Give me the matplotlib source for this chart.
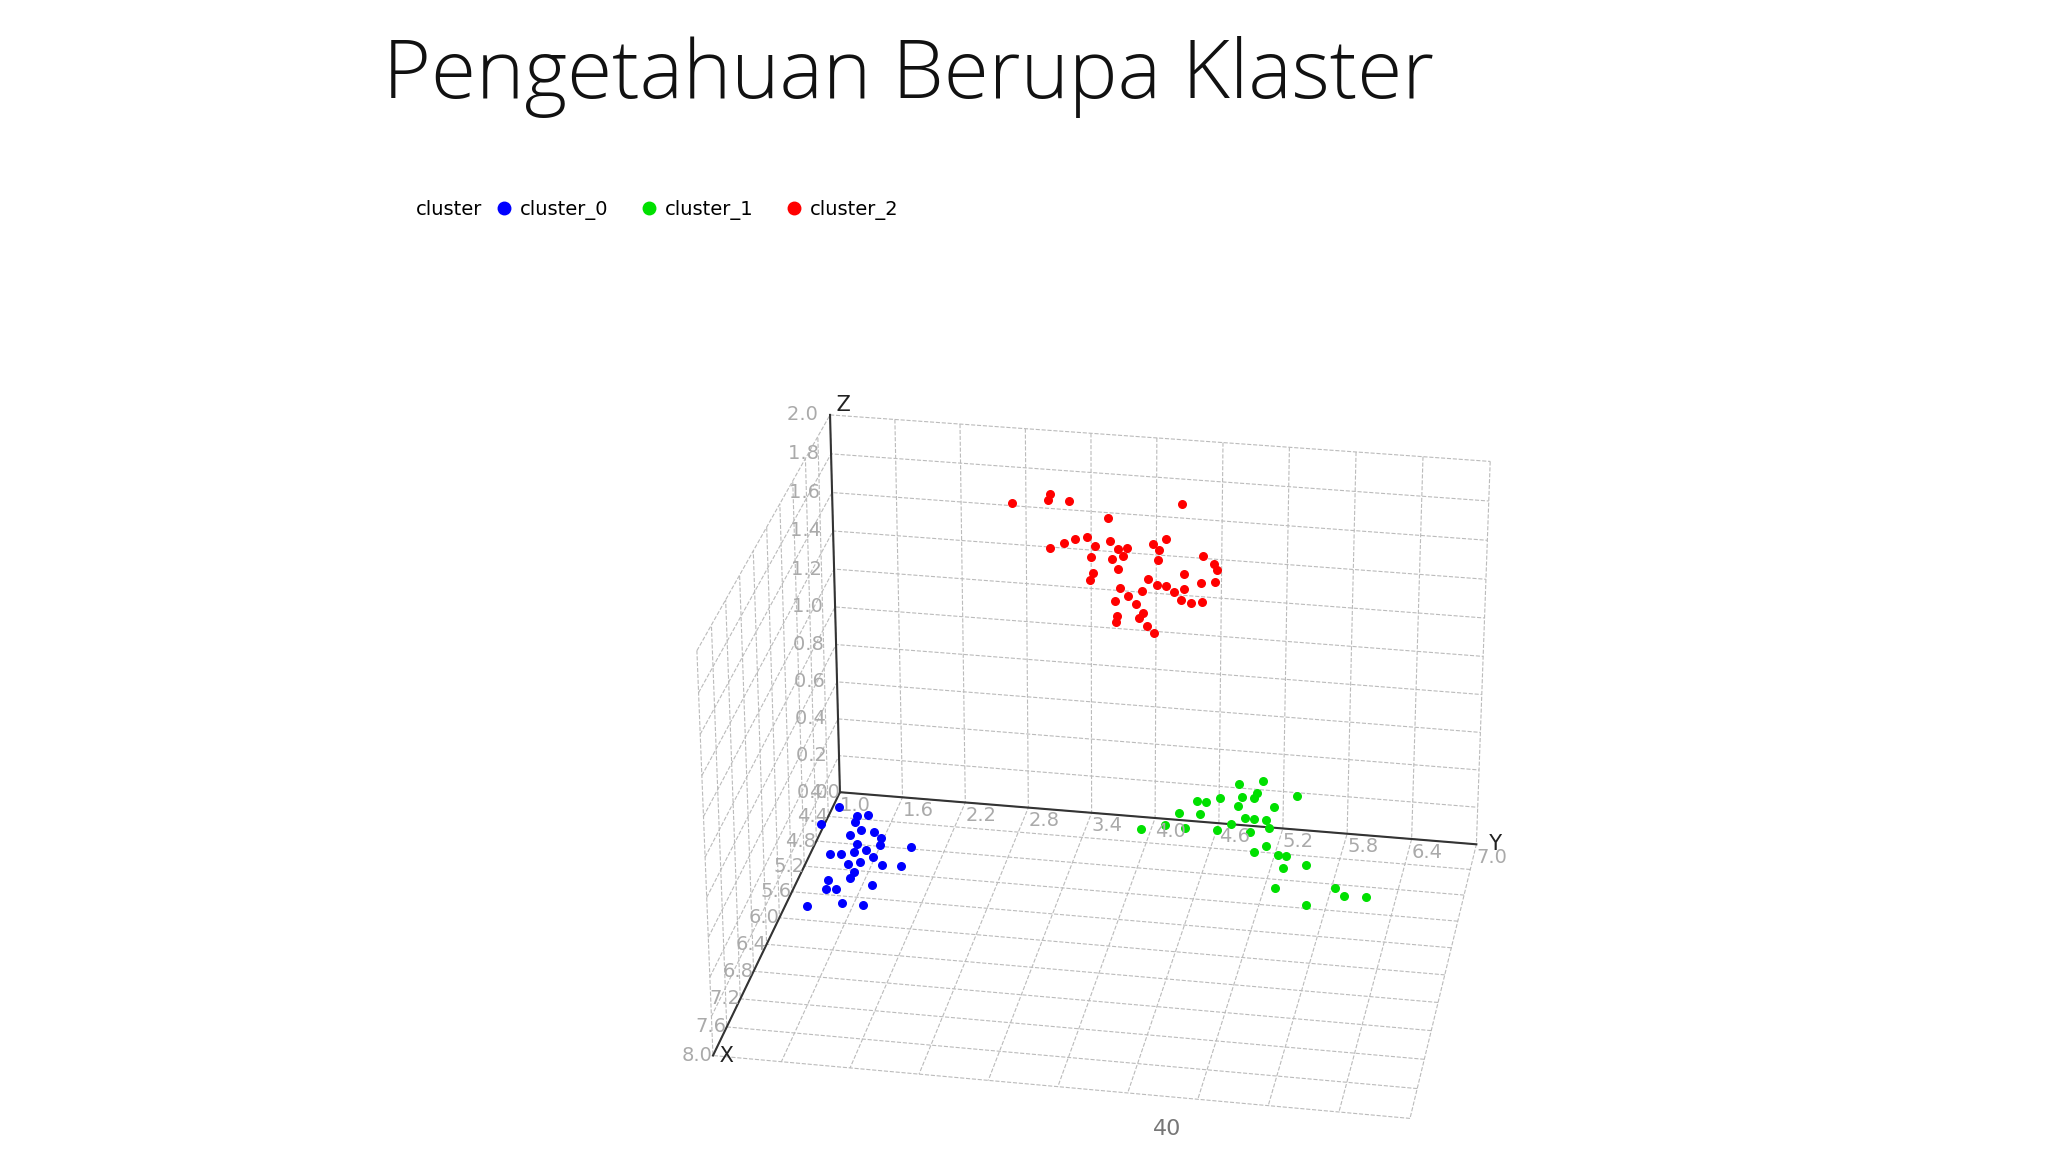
import matplotlib
matplotlib.use("Agg")
import matplotlib.pyplot as plt
import numpy as np
from matplotlib.lines import Line2D

# cluster_0 (blue)
c0_x = [4.24,4.53,4.36,4.33,4.45,4.57,4.58,4.67,4.66,4.79,4.78,4.98,4.97,4.92,4.87,4.97,5.11,5.06,5.09,5.08,4.77,5.22,5.32,5.38,5.51,5.50,5.40,5.70,5.71,5.79]
c0_y = [1.06,0.97,1.26,1.36,1.27,1.36,1.48,1.57,1.28,1.38,1.59,1.18,1.28,1.39,1.49,1.58,1.38,1.48,1.70,1.87,1.88,1.47,1.46,1.27,1.29,1.38,1.69,1.49,1.69,1.19]
c0_z = [0.0]*30
# cluster_1 (green)
c1_x = [4.19,4.10,4.12,4.0,4.0,4.0,4.0,4.0,4.0,4.0,4.0,4.0,4.0,4.0,4.0,4.0,4.0,4.0,4.0,4.11,4.0,4.10,4.01,4.30,4.41,4.42,4.43,4.54,4.62,4.93,4.85,4.97,4.96,5.15]
c1_y = [3.91,4.11,4.31,4.22,4.42,4.39,4.48,4.61,4.78,5.01,4.81,4.93,4.95,4.78,4.84,4.93,5.04,5.11,5.33,4.60,4.71,4.91,5.07,5.10,5.01,5.23,5.31,5.51,5.31,5.30,5.83,5.93,6.13,5.62]
c1_z = [0.0,0.0,0.0,0.04,0.04,0.11,0.11,0.14,0.22,0.25,0.15,0.15,0.18,0.10,0.04,0.04,0.04,0.11,0.18,0.0,0.0,0.0,0.0,0.0,0.0,0.0,0.0,0.0,0.0,0.0,0.0,0.0,0.0,0.0]
# cluster_2 (red)
c2_y = [2.68,3.01,3.03,3.20,3.56,4.24,3.02,3.15,3.26,3.37,3.44,3.58,3.65,3.73,3.40,3.60,3.70,3.97,4.09,4.03,4.02,3.65,3.42,3.39,4.43,4.53,4.56,4.54,4.26,4.42,3.93,4.01,4.09,4.17,4.26,3.67,3.74,3.82,3.87,3.62,4.33,4.43,4.23,3.88,3.85,3.64,3.63,3.92,3.99]
c2_z = [1.62,1.65,1.68,1.65,1.58,1.68,1.40,1.43,1.46,1.47,1.43,1.46,1.42,1.43,1.37,1.37,1.39,1.46,1.49,1.43,1.38,1.32,1.29,1.25,1.42,1.38,1.35,1.29,1.32,1.28,1.28,1.25,1.25,1.22,1.24,1.22,1.18,1.14,1.21,1.15,1.17,1.18,1.18,1.10,1.07,1.07,1.04,1.03,1.00]
c2_x = [4.02]*len(c2_y)

x_ticks = [4.0,4.4,4.8,5.2,5.6,6.0,6.4,6.8,7.2,7.6,8.0]
y_ticks = [1.0,1.6,2.2,2.8,3.4,4.0,4.6,5.2,5.8,6.4,7.0]
z_ticks = [0.0,0.2,0.4,0.6,0.8,1.0,1.2,1.4,1.6,1.8,2.0]

fig = plt.figure(figsize=(20.48, 11.52), dpi=100)
fig.patch.set_facecolor("white")
fig.text(0.187, 0.933, "Pengetahuan Berupa Klaster", fontsize=59, family="Open Sans",
         fontweight="light", va="center", ha="left", color="#111111")
fig.text(0.570, 0.015, "40", fontsize=16, color="#777777", ha="center")

ax = fig.add_axes([0.275, -0.085, 0.52, 0.84], projection="3d")
ax.scatter(c0_x, c0_y, c0_z, color="#0000ff", s=30, depthshade=False)
ax.scatter(c1_x, c1_y, c1_z, color="#00e000", s=30, depthshade=False)
ax.scatter(c2_x, c2_y, c2_z, color="#ff0000", s=30, depthshade=False)
ax.set_xlim(4.0, 8.0); ax.set_ylim(1.0, 7.0); ax.set_zlim(0.0, 2.0)
ax.set_xticks(x_ticks); ax.set_yticks(y_ticks); ax.set_zticks(z_ticks)
ax.set_xticklabels([]); ax.set_yticklabels([]); ax.set_zticklabels([])
ax.set_box_aspect((1.2, 1.45, 0.93))
ax.view_init(elev=27, azim=10)
for a in (ax.xaxis, ax.yaxis, ax.zaxis):
    a.set_pane_color((1, 1, 1, 0))
    a.pane.set_edgecolor((1, 1, 1, 0))
    a._axinfo["grid"]["color"] = "#bbbbbb"
    a._axinfo["grid"]["linestyle"] = "--"
    a._axinfo["grid"]["linewidth"] = 0.8
    a._axinfo["tick"]["inward_factor"] = 0
    a._axinfo["tick"]["outward_factor"] = 0
    a.line.set_color((1, 1, 1, 0))

ax.plot([4.0, 8.0], [1.0, 1.0], [0, 0], color="#333333", lw=1.5)
ax.plot([4.0, 4.0], [1.0, 7.0], [0, 0], color="#333333", lw=1.5)
ax.plot([4.0, 4.0], [1.0, 1.0], [0, 2.0], color="#333333", lw=1.5)
tc = "#aaaaaa"
for v in y_ticks:
    ax.text(4.0, v, -0.02, f"{v:.1f}", color=tc, fontsize=14, ha="left", va="top")
for v in x_ticks:
    ax.text(v, 1.0, 0.0, f"{v:.1f}", color=tc, fontsize=14, ha="right", va="center")
for v in z_ticks:
    ax.text(4.0, 1.0, v, f"{v:.1f}  ", color=tc, fontsize=14, ha="right", va="center")
ax.text(8.0, 1.0, 0.0, " X", fontsize=15, color="#222222", ha="left", va="center")
ax.text(4.0, 7.0, 0.0, "  Y", fontsize=15, color="#222222", ha="left", va="center")
ax.text(4.0, 1.0, 2.0, " Z", fontsize=15, color="#222222", ha="left", va="bottom")

handles = [Line2D([], [], marker="o", ls="", color=c, markersize=9) for c in ("#0000ff", "#00e000", "#ff0000")]
fig.legend(handles, ["cluster_0", "cluster_1", "cluster_2"], loc="center left",
           bbox_to_anchor=(0.232, 0.818), ncol=3, frameon=False, fontsize=14,
           handletextpad=0.2, columnspacing=1.5, handlelength=1.2)
fig.text(0.203, 0.818, "cluster", fontsize=14, va="center", ha="left")
fig.savefig("out.png", dpi=100)
